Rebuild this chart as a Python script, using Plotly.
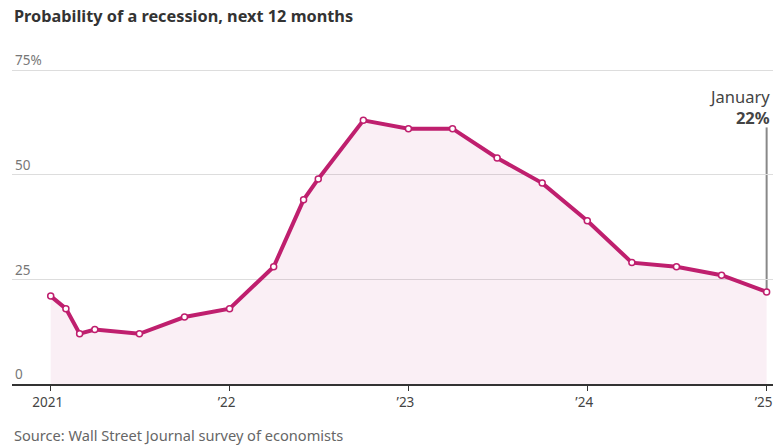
import plotly.graph_objects as go

dates = ["2021-01-01", "2021-02-01", "2021-03-01", "2021-04-01", "2021-07-01", "2021-10-01",
         "2022-01-01", "2022-04-01", "2022-06-01", "2022-07-01", "2022-10-01",
         "2023-01-01", "2023-04-01", "2023-07-01", "2023-10-01",
         "2024-01-01", "2024-04-01", "2024-07-01", "2024-10-01", "2025-01-01"]
values = [21, 18, 12, 13, 12, 16, 18, 28, 44, 49, 63, 61, 61, 54, 48, 39, 29, 28, 26, 22]

x_tickvals = ["2021-01-01", "2022-01-01", "2023-01-01", "2024-01-01", "2025-01-01"]
x_ticktext = ["2021", "\u201922", "\u201923", "\u201924", "\u201925"]
y_tickvals = [0, 25, 50, 75]
y_ticktext = ["0", "25", "50", "75%"]

LINE = "#bf1f6e"
FONT = "Noto Sans"

fig = go.Figure()
fig.add_trace(go.Scatter(
    x=dates, y=values, mode="lines+markers", fill="tozeroy",
    fillcolor="rgba(191,31,110,0.07)",
    line=dict(color=LINE, width=4),
    marker=dict(size=6, color="white", line=dict(color=LINE, width=1.5)),
    hoverinfo="skip", showlegend=False,
))

fig.add_shape(type="line", xref="x", yref="y",
              x0=dates[-1], x1=dates[-1], y0=values[-1], y1=61.3,
              line=dict(color="#888888", width=2), layer="below")

fig.add_annotation(xref="x", yref="paper", x=dates[-1], y=0.80, xanchor="right", yanchor="bottom",
                   xshift=5, text="January<br><b>" + str(values[-1]) + "%</b>", align="right", showarrow=False,
                   font=dict(family=FONT, size=16.5, color="#444444"))

fig.add_annotation(xref="paper", yref="paper", x=0, y=1, xanchor="left", yanchor="top",
                   text="<b>Probability of a recession, next 12 months</b>", showarrow=False,
                   yshift=65, font=dict(family=FONT, size=16.3, color="#333333"))

fig.add_annotation(xref="paper", yref="paper", x=0, y=0, xanchor="left", yanchor="top",
                   text="Source: Wall Street Journal survey of economists", showarrow=False,
                   yshift=-39, font=dict(family=FONT, size=14.6, color="#666666"))

fig.update_layout(
    width=773, height=448,
    margin=dict(l=12, r=0, t=68, b=64, autoexpand=False),
    plot_bgcolor="white", paper_bgcolor="white",
    font=dict(family=FONT, size=13, color="#666666"),
    xaxis=dict(range=["2020-10-14", "2025-01-14"], tickvals=x_tickvals, ticktext=x_ticktext,
               ticks="outside", ticklen=5, tickcolor="#333333", showline=True, linecolor="#333333",
               linewidth=1.5, showgrid=False, zeroline=False, ticklabeloverflow="allow",
               ticklabelshift=-3,
               automargin=False, tickfont=dict(size=13.5, color="#444444")),
    yaxis=dict(range=[0, 75.5], tickvals=y_tickvals, ticktext=y_ticktext, ticklabelposition="inside top",
               showgrid=True, gridcolor="#dddddd", gridwidth=1, zeroline=False, showline=False,
               ticklabeloverflow="allow", automargin=False,
               ticks="", tickfont=dict(size=13.5, color="#777777")),
)

fig.write_html("out.html")
